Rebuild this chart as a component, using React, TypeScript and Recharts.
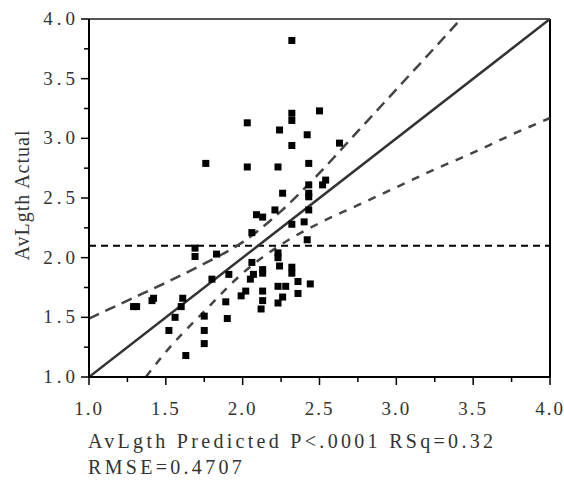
import React from 'react'
import { ComposedChart, Scatter, Line, XAxis, YAxis, ReferenceLine } from 'recharts'

const points = [
  { x: 2.32, y: 3.82 }, { x: 2.5, y: 3.23 }, { x: 2.32, y: 3.21 }, { x: 2.32, y: 3.15 },
  { x: 2.03, y: 3.13 }, { x: 2.24, y: 3.07 }, { x: 2.42, y: 3.03 }, { x: 2.32, y: 2.94 },
  { x: 2.63, y: 2.96 }, { x: 1.76, y: 2.79 }, { x: 2.03, y: 2.76 }, { x: 2.23, y: 2.76 },
  { x: 2.43, y: 2.79 }, { x: 2.54, y: 2.65 }, { x: 2.52, y: 2.61 }, { x: 2.43, y: 2.61 },
  { x: 2.43, y: 2.54 }, { x: 2.43, y: 2.51 }, { x: 2.26, y: 2.54 }, { x: 2.21, y: 2.4 },
  { x: 2.43, y: 2.4 }, { x: 2.09, y: 2.36 }, { x: 2.13, y: 2.34 }, { x: 2.4, y: 2.3 },
  { x: 2.32, y: 2.28 }, { x: 2.06, y: 2.21 }, { x: 2.42, y: 2.15 }, { x: 1.69, y: 2.08 },
  { x: 1.69, y: 2.01 }, { x: 1.83, y: 2.03 }, { x: 2.23, y: 2.04 }, { x: 2.23, y: 2.0 },
  { x: 2.24, y: 1.93 }, { x: 2.32, y: 1.92 }, { x: 2.32, y: 1.87 }, { x: 2.06, y: 1.96 },
  { x: 2.13, y: 1.9 }, { x: 2.13, y: 1.87 }, { x: 2.07, y: 1.86 }, { x: 2.05, y: 1.82 },
  { x: 1.91, y: 1.86 }, { x: 1.8, y: 1.82 }, { x: 2.36, y: 1.8 }, { x: 2.44, y: 1.78 },
  { x: 2.23, y: 1.76 }, { x: 2.28, y: 1.76 }, { x: 2.36, y: 1.7 }, { x: 2.13, y: 1.72 },
  { x: 2.02, y: 1.72 }, { x: 1.99, y: 1.68 }, { x: 2.26, y: 1.67 }, { x: 2.13, y: 1.64 },
  { x: 2.23, y: 1.62 }, { x: 2.12, y: 1.57 }, { x: 1.89, y: 1.63 }, { x: 1.9, y: 1.49 },
  { x: 1.75, y: 1.51 }, { x: 1.75, y: 1.39 }, { x: 1.75, y: 1.28 }, { x: 1.63, y: 1.18 },
  { x: 1.61, y: 1.66 }, { x: 1.6, y: 1.59 }, { x: 1.56, y: 1.5 }, { x: 1.52, y: 1.39 },
  { x: 1.42, y: 1.66 }, { x: 1.41, y: 1.64 }, { x: 1.29, y: 1.59 }, { x: 1.31, y: 1.59 },
]

const fitLine = [{ x: 1, y: 1 }, { x: 4, y: 4 }]

const upperCurve = [
  { x: 1.0, y: 1.49 }, { x: 1.25, y: 1.64 }, { x: 1.5, y: 1.79 }, { x: 1.75, y: 1.95 },
  { x: 2.0, y: 2.13 }, { x: 2.25, y: 2.39 }, { x: 2.5, y: 2.71 }, { x: 2.75, y: 3.06 },
  { x: 3.0, y: 3.41 }, { x: 3.25, y: 3.76 }, { x: 3.42, y: 4.0 },
]

const lowerCurve = [
  { x: 1.37, y: 1.0 }, { x: 1.5, y: 1.21 }, { x: 1.75, y: 1.55 }, { x: 2.0, y: 1.87 },
  { x: 2.25, y: 2.11 }, { x: 2.5, y: 2.29 }, { x: 2.75, y: 2.44 }, { x: 3.0, y: 2.59 },
  { x: 3.25, y: 2.74 }, { x: 3.5, y: 2.88 }, { x: 3.75, y: 3.03 }, { x: 4.0, y: 3.17 },
]

const meanLine = [{ x: 1, y: 2.1 }, { x: 4, y: 2.1 }]

const allTicks = [1, 1.25, 1.5, 1.75, 2, 2.25, 2.5, 2.75, 3, 3.25, 3.5, 3.75, 4]
const tickLabels = ['1.0', '', '1.5', '', '2.0', '', '2.5', '', '3.0', '', '3.5', '', '4.0']

const font = '"Liberation Serif", "DejaVu Serif", serif'
const textColor = '#333'

const labelFor = (v: number) => tickLabels[allTicks.indexOf(v)] || ''

const XTick = (props: any) => {
  const { x, y, payload } = props
  const label = labelFor(payload.value)
  return (
    <g>
      <line x1={x} x2={x} y1={y} y2={y + (label ? 8 : 5)} stroke="#000" strokeWidth={1.5} />
      {label && (
        <text x={x} y={y + 38} textAnchor="middle" fontFamily={font} fontSize={19} letterSpacing={2} fill={textColor}>
          {label}
        </text>
      )}
    </g>
  )
}

const YTick = (props: any) => {
  const { x, y, payload } = props
  const label = labelFor(payload.value)
  return (
    <g>
      <line x1={x} x2={x - (label ? 8 : 5)} y1={y} y2={y} stroke="#000" strokeWidth={1.5} />
      {label && (
        <text x={x - 10} y={y + 6} textAnchor="end" fontFamily={font} fontSize={19} letterSpacing={4} fill={textColor}>
          {label}
        </text>
      )}
    </g>
  )
}

const Square = (props: any) => {
  const { cx, cy } = props
  if (cx == null || cy == null) return null
  return <rect x={cx - 3.5} y={cy - 3.5} width={7} height={7} fill="#000" />
}

export default function App() {
  return (
    <div style={{ position: 'absolute', left: 0, top: 0, width: 564, height: 480, background: '#fff' }}>
      <ComposedChart width={564} height={480} margin={{ top: 19, right: 14, bottom: 63, left: 29 }}>
        <XAxis
          type="number"
          dataKey="x"
          domain={[1, 4]}
          ticks={allTicks}
          allowDataOverflow
          height={40}
          tickLine={false}
          tickSize={0}
          tickMargin={0}
          tick={<XTick />}
          axisLine={{ stroke: '#000', strokeWidth: 2 }}
          interval={0}
        />
        <YAxis
          type="number"
          dataKey="y"
          domain={[1, 4]}
          ticks={allTicks}
          allowDataOverflow
          width={60}
          tickLine={false}
          tickSize={0}
          tickMargin={0}
          tick={<YTick />}
          axisLine={{ stroke: '#000', strokeWidth: 2 }}
          interval={0}
        />
        <ReferenceLine y={4} stroke="#555" strokeWidth={2} />
        <ReferenceLine x={4} stroke="#000" strokeWidth={2} />
        <Line data={meanLine} dataKey="y" type="linear" stroke="#000" strokeWidth={2} strokeDasharray="7 5" dot={false} isAnimationActive={false} />
        <Line data={upperCurve} dataKey="y" type="monotone" stroke="#444" strokeWidth={2.5} strokeDasharray="11 7" dot={false} isAnimationActive={false} />
        <Line data={lowerCurve} dataKey="y" type="monotone" stroke="#444" strokeWidth={2.5} strokeDasharray="8 8" dot={false} isAnimationActive={false} />
        <Line data={fitLine} dataKey="y" type="linear" stroke="#333" strokeWidth={2.5} dot={false} isAnimationActive={false} />
        <Scatter data={points} dataKey="y" shape={<Square />} isAnimationActive={false} />
      </ComposedChart>
      <div
        style={{
          position: 'absolute', left: 22, top: 195, transform: 'translate(-50%, -50%) rotate(-90deg)',
          whiteSpace: 'nowrap', fontFamily: font, fontSize: 20, letterSpacing: 1, color: textColor,
        }}
      >
        AvLgth Actual
      </div>
      <div
        style={{
          position: 'absolute', left: 88, top: 428, fontFamily: font, fontSize: 20, letterSpacing: 3.3,
          lineHeight: '26px', color: textColor, whiteSpace: 'nowrap',
        }}
      >
        <div>AvLgth Predicted P&lt;.0001 RSq=0.32</div>
        <div>RMSE=0.4707</div>
      </div>
    </div>
  )
}
